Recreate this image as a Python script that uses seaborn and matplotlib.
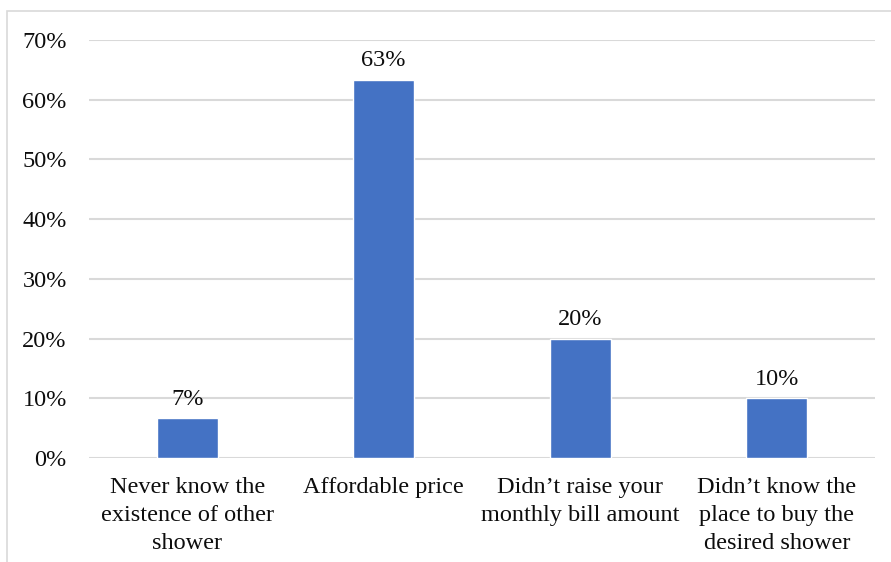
import matplotlib
matplotlib.use("Agg")
import matplotlib.pyplot as plt
from matplotlib.patches import Rectangle
import seaborn as sns
import pandas as pd

# Survey reasons and share of respondents (%)
categories = [
    "Never know the\nexistence of other\nshower",
    "Affordable price",
    "Didn\u2019t raise your\nmonthly bill amount",
    "Didn\u2019t know the\nplace to buy the\ndesired shower",
]
shares = [6.67, 63.33, 20.0, 10.0]
y_ticks = [0, 10, 20, 30, 40, 50, 60, 70]
y_tick_labels = [f"{v}%" for v in y_ticks]

sns.set_theme(style="white")
plt.rcParams["font.family"] = ["Liberation Serif", "DejaVu Serif"]

df = pd.DataFrame({"reason": categories, "share": shares})

fig = plt.figure(figsize=(8.91, 5.62), dpi=100)
ax = fig.add_axes([89 / 891, 1 - 458 / 562, (875 - 89) / 891, (458 - 40) / 562])

sns.barplot(data=df, x="reason", y="share", color="#4472C4", width=0.31,
            saturation=1, ax=ax, zorder=3)

fs = 17.5
ax.set_ylim(0, 70)
ax.set_xlim(-0.5, 3.5)
ax.set_yticks(y_ticks)
ax.set_yticklabels(y_tick_labels)
ax.yaxis.grid(True, color="#D9D9D9", linewidth=1.5, zorder=0)
ax.set_axisbelow(True)
for s in ax.spines.values():
    s.set_visible(False)
ax.tick_params(axis="y", length=0, pad=16, labelsize=fs, labelcolor="#0d0d0d")
ax.tick_params(axis="x", length=0, pad=14, labelsize=fs, labelcolor="#0d0d0d")
for lbl in ax.get_xticklabels():
    lbl.set_linespacing(1.42)
ax.set_xlabel("")
ax.set_ylabel("")

for i, v in enumerate(shares):
    ax.annotate(f"{round(v)}%", xy=(i, v), xytext=(0, 6), textcoords="offset points",
                ha="center", va="bottom", fontsize=fs, color="#0d0d0d")

# light chart-area frame
fig.patches.append(Rectangle((7 / 891, -0.1), 1.2, 1.1 - 11 / 562,
                             transform=fig.transFigure, fill=False,
                             edgecolor="#D9D9D9", linewidth=1.2))

fig.savefig("out.png", dpi=100)
